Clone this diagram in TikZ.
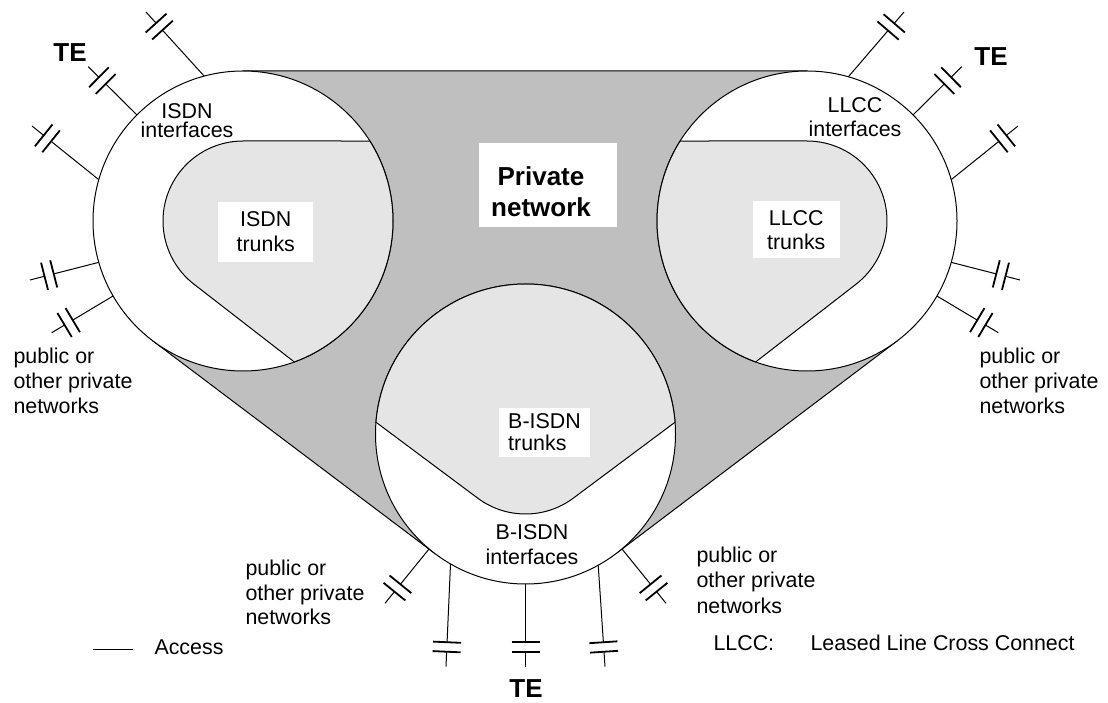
\documentclass[tikz,border=0pt]{standalone}
\usepackage{fontspec}
\setmainfont{Liberation Sans}
\usetikzlibrary{calc}
\definecolor{netgrey}{gray}{0.75}
\definecolor{trunkgrey}{gray}{0.9}
\tikzset{
  txt/.style={font=\fontsize{10.7}{12.5}\selectfont, align=center, inner sep=0pt},
  keytxt/.style={font=\fontsize{10.7}{12.5}\selectfont, inner sep=0pt, anchor=base west},
  te/.style={font=\fontsize{13}{15}\selectfont\bfseries, inner sep=0pt},
  whitebox/.style={txt, fill=white},
  site/.style={circle, draw, fill=white, minimum size=150pt, inner sep=0pt, outer sep=0pt},
  trunk/.style={fill=trunkgrey, draw},
  plates/.pic={\draw[line width=0.9pt] (-4.75,-14) -- (-4.75,14) (4.75,-14) -- (4.75,14);},
  access/.style={to path={let \p1=($(\tikztotarget)-(\tikztostart)$), \n1={atan2(\y1,\x1)} in
    -- ($(\tikztotarget)!12.25pt!(\tikztostart)$)
    ($(\tikztotarget)!7.5pt!(\tikztostart)$) -- (\tikztotarget)
    ($(\tikztotarget)!9.875pt!(\tikztostart)$) pic[rotate=\n1] {plates}}}
}

\begin{document}
\begin{tikzpicture}[x=0.5pt,y=0.5pt,line width=0.5pt]
\useasboundingbox (0,0) rectangle (1108,702);
\coordinate (c1) at (243,481);
\coordinate (c2) at (807,481);
\coordinate (c3) at (525.5,268);

%private network around the three circles
\filldraw[fill=netgrey] ($(c1)+(90:150)$) -- ($(c2)+(90:150)$) -- ($(c2)+(-52.9:150)$)
  -- ($(c3)+(-52.9:150)$) -- ($(c3)+(232.95:150)$) -- ($(c1)+(232.95:150)$) -- cycle;

\node[site] (isdn) at (c1) {};
\node[site] (llcc) at (c2) {};
\node[site] (bisdn) at (c3) {};

%trunk areas
\filldraw[trunk] ($(c1)+(90:80)$) -- ($(c1)+(32.23:150)$) arc[start angle=32.23, end angle=-70, radius=150]
  -- ($(c1)+(232:80)$) arc[start angle=232, end angle=90, radius=80] -- cycle;
\filldraw[trunk] ($(c2)+(90:80)$) -- ($(c2)+(147.77:150)$) arc[start angle=147.77, end angle=250, radius=150]
  -- ($(c2)+(-52:80)$) arc[start angle=-52, end angle=90, radius=80] -- cycle;
\filldraw[trunk] ($(c3)+(4.5:150)$) arc[start angle=4.5, end angle=175.5, radius=150]
  -- ($(c3)+(233.3:80)$) arc[start angle=233.3, end angle=306.7, radius=80] -- cycle;

\node[txt, font=\fontsize{10.7}{9.85}\selectfont] (isdnif) at (187,581.3) {ISDN\\interfaces};
\node[whitebox, minimum width=47.5pt, minimum height=30pt] (isdntr) at (265.8,470.3) {ISDN\\trunks};
\node[txt, font=\fontsize{10.7}{12}\selectfont] (llccif) at (855,585) {LLCC\\interfaces};
\node[whitebox, font=\fontsize{10.7}{12}\selectfont, minimum width=43.5pt, minimum height=28.5pt] (llcctr) at (796.3,472) {LLCC\\trunks};
\node[whitebox, align=left, font=\fontsize{10.7}{11}\selectfont, minimum width=45.5pt, minimum height=24.5pt] (bisdntr) at (544.5,269.5) {B-ISDN\\trunks};
\node[txt] (bisdnif) at (532,157) {B-ISDN\\interfaces};

\node[fill=white, minimum width=69pt, minimum height=42.35pt, inner sep=0pt, anchor=north] (pnbox) at (548,559.7) {};
\node[txt, font=\fontsize{13}{15.75}\selectfont\bfseries] (pn) at (541,510.1) {Private\\network};

\node[te] (te1) at (70,649) {TE};
\node[te] (te2) at (991,645) {TE};
\node[te] (te3) at (526,13) {TE};

\node[txt, align=left, anchor=north west, font=\fontsize{10.7}{12.65}\selectfont] (pub1) at (13,355) {public or\\other private\\networks};
\node[txt, align=left, anchor=north west, font=\fontsize{10.7}{12.65}\selectfont] (pub2) at (979,355) {public or\\other private\\networks};
\node[txt, align=left, anchor=north west, font=\fontsize{10.7}{12.25}\selectfont] (pub3) at (245,142.3) {public or\\other private\\networks};
\node[txt, align=left, anchor=north west, font=\fontsize{10.7}{12.75}\selectfont] (pub4) at (696,155.6) {public or\\other private\\networks};

%accesses
\coordinate (a1) at (146,690);
\coordinate (a2) at (88.3,635.3);
\coordinate (a3) at (32,576);
\coordinate (a4) at (30,422);
\coordinate (a5) at (51.7,369.3);
\coordinate (a6) at (904,690);
\coordinate (a7) at (961.7,635.3);
\coordinate (a8) at (1018,576);
\coordinate (a9) at (1020,422);
\coordinate (a10) at (998.3,369.3);
\coordinate (a11) at (385,98.7);
\coordinate (a12) at (446,35.3);
\coordinate (a13) at (525.5,35.3);
\coordinate (a14) at (605,35.3);
\coordinate (a15) at (666,98.7);

\draw[access] (isdn.105.5) to (a1);
\draw[access] (isdn.135) to (a2);
\draw[access] (isdn.164) to (a3);
\draw[access] (isdn.196) to (a4);
\draw[access] (isdn.210.5) to (a5);
\draw[access] (llcc.74.5) to (a6);
\draw[access] (llcc.45) to (a7);
\draw[access] (llcc.16) to (a8);
\draw[access] (llcc.-16) to (a9);
\draw[access] (llcc.-30.5) to (a10);
\draw[access] (bisdn.230) to (a11);
\draw[access] (bisdn.240.5) to (a12);
\draw[access] (bisdn.270) to (a13);
\draw[access] (bisdn.299.5) to (a14);
\draw[access] (bisdn.310) to (a15);

%key
\coordinate (k1) at (92.7,53);
\coordinate (k2) at (133.3,53);
\draw (k1) -- (k2);
\node[keytxt] (acc) at (154,48) {Access};
\node[keytxt] (abbr) at (713,51.3) {LLCC:};
\node[keytxt] (abbrtxt) at (810,51.3) {Leased Line Cross Connect};
\end{tikzpicture}
\end{document}
